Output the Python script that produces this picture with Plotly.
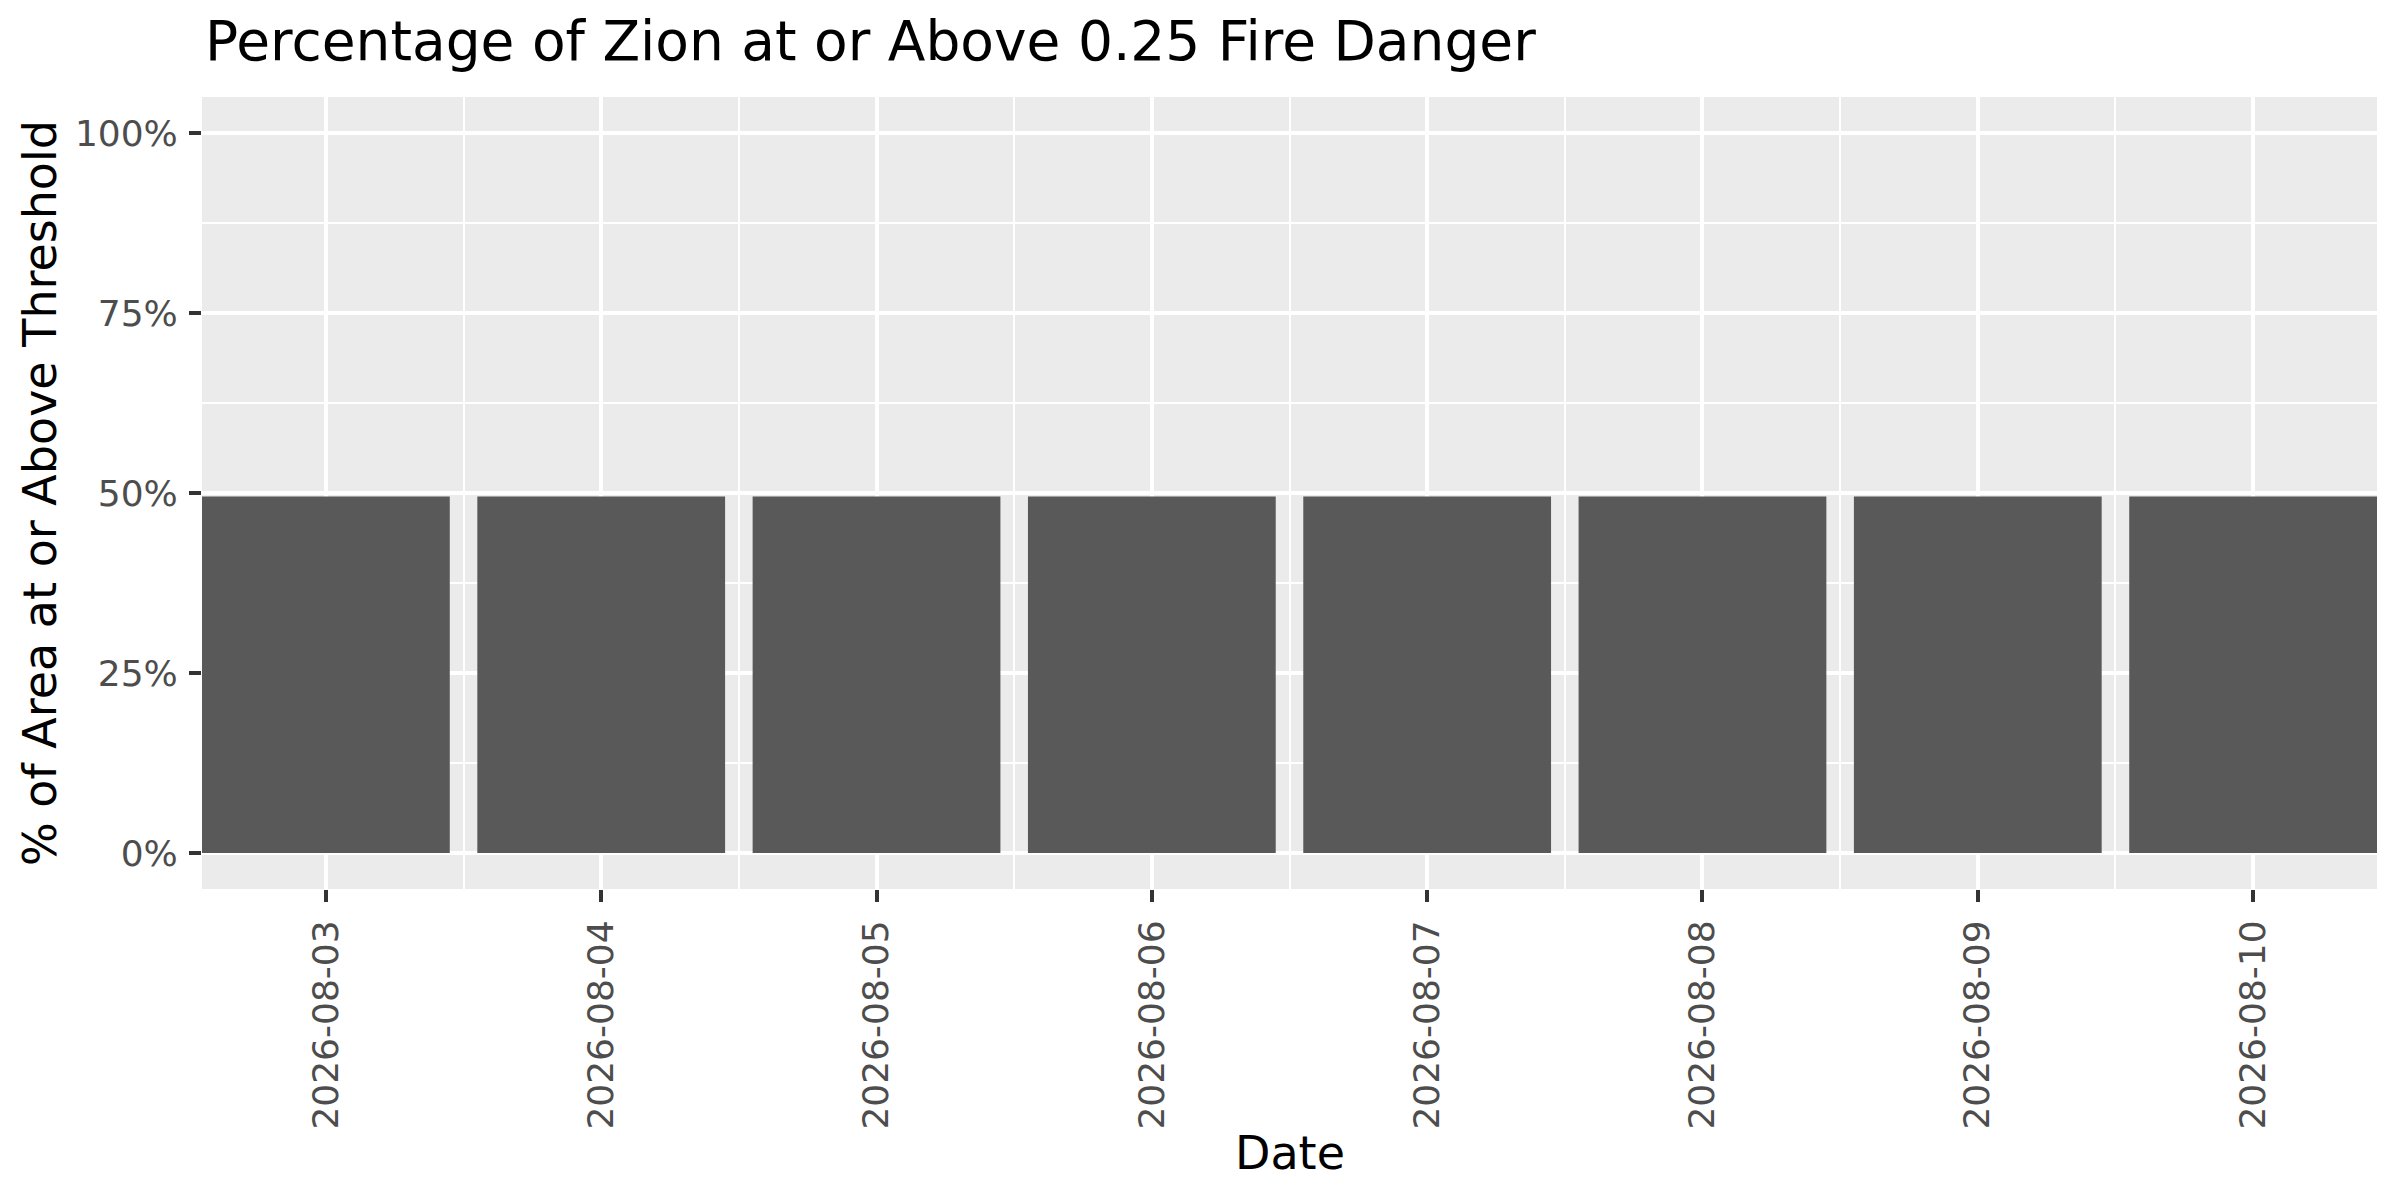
import plotly.graph_objects as go

# dados
datas = ["2026-08-03", "2026-08-04", "2026-08-05", "2026-08-06",
         "2026-08-07", "2026-08-08", "2026-08-09", "2026-08-10"]
pct_area = [0.495, 0.495, 0.495, 0.495, 0.495, 0.495, 0.495, 0.495]
y_ticks = [0, 0.25, 0.5, 0.75, 1.0]

DIA_MS = 86400000
fonte = "DejaVu Sans"

fig = go.Figure()
fig.add_trace(go.Bar(x=datas, y=pct_area, width=[0.9 * DIA_MS] * len(datas),
                     marker=dict(color="#595959", line=dict(width=0)),
                     showlegend=False))

# a pagina tem margem de 8px no body, por isso tudo vai 8px para cima/esquerda
fig.update_layout(
    width=2400, height=1200,
    margin=dict(l=194, r=31, t=89, b=319),
    paper_bgcolor="white", plot_bgcolor="#EBEBEB",
    font=dict(family=fonte, size=36, color="#4D4D4D"),
    title=dict(text="Percentage of Zion at or Above 0.25 Fire Danger",
               font=dict(family=fonte, size=55, color="black"),
               xref="container", x=197 / 2400, xanchor="left",
               yref="container", y=1 - 33 / 1200, yanchor="middle"),
)

fig.update_xaxes(
    type="date", range=["2026-08-02 13:12", "2026-08-10 10:48"],
    tickformat="%Y-%m-%d", dtick=DIA_MS, tick0="2026-08-03",
    tickangle=-90, ticks="outside", ticklen=12, tickwidth=4.3, tickcolor="#333333",
    ticklabelstandoff=4,
    showgrid=True, gridcolor="white", gridwidth=4.3,
    minor=dict(dtick=DIA_MS, tick0="2026-08-02 12:00", showgrid=True,
               gridcolor="white", gridwidth=2.2, ticks=""),
    zeroline=False, showline=False,
    tickfont=dict(family=fonte, size=36, color="#4D4D4D"),
)
fig.update_yaxes(
    range=[-0.05, 1.05], tickvals=y_ticks, tickformat=".0%",
    ticks="outside", ticklen=12, tickwidth=4.3, tickcolor="#333333",
    ticklabelstandoff=4,
    showgrid=True, gridcolor="white", gridwidth=4.3,
    minor=dict(dtick=0.125, tick0=0.125, showgrid=True,
               gridcolor="white", gridwidth=2.2, ticks=""),
    zeroline=False, showline=False,
    tickfont=dict(family=fonte, size=36, color="#4D4D4D"),
)

# titulos dos eixos
fig.add_annotation(text="Date", xref="paper", yref="paper", x=0.5, y=-0.333,
                   xanchor="center", yanchor="middle", showarrow=False,
                   font=dict(family=fonte, size=46, color="black"))
fig.add_annotation(text="% of Area at or Above Threshold", xref="paper", yref="paper",
                   x=-0.0745, y=0.5, xanchor="center", yanchor="middle",
                   textangle=-90, showarrow=False,
                   font=dict(family=fonte, size=46, color="black"))

fig.write_html("out.html")
